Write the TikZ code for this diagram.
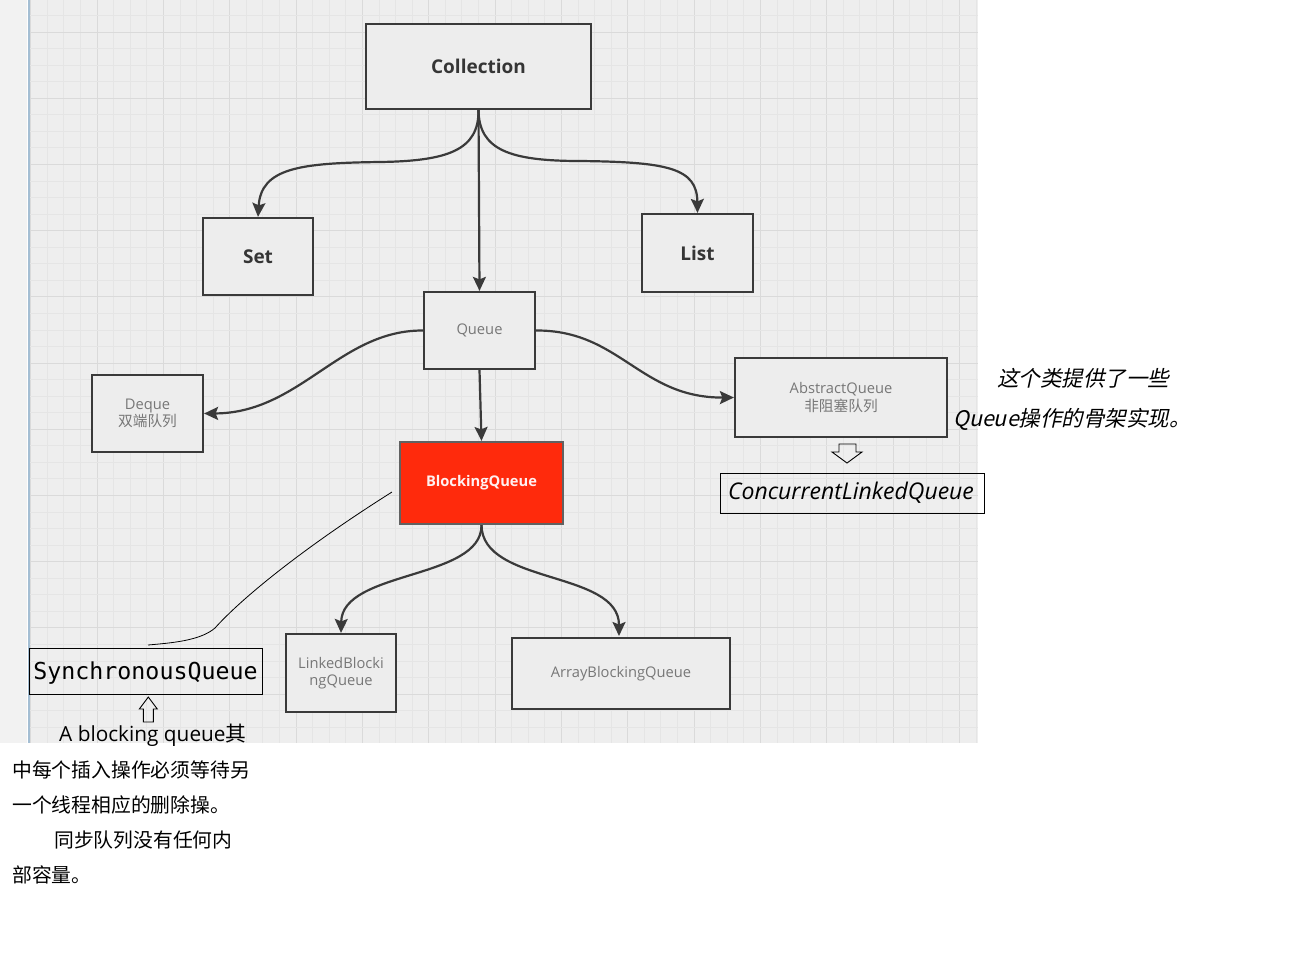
\documentclass[tikz,border=0pt]{standalone}
\usepackage{fontspec}
\setmainfont{Open Sans}
\newfontfamily\cjk{Noto Sans CJK SC}
\newfontfamily\cjkit[FakeSlant=0.22]{Noto Sans CJK SC}
\newfontfamily\monof{DejaVu Sans Mono}
\usetikzlibrary{arrows.meta}
\definecolor{gridbg}{HTML}{EEEEEE}
\definecolor{gridminor}{HTML}{E5E5E5}
\definecolor{gridmajor}{HTML}{DADADA}
\definecolor{boxline}{HTML}{3A3A3A}
\definecolor{boxfill}{HTML}{EDEDED}
\definecolor{lighttext}{HTML}{777777}
\definecolor{darktext}{HTML}{353535}
\definecolor{bqred}{HTML}{FF2A0C}
\definecolor{stripc}{HTML}{F2F2F2}
\definecolor{blueline}{HTML}{A4BED3}
\tikzset{
 uml/.style={draw=boxline, line width=2.2pt, fill=boxfill, inner sep=0pt, align=center},
 bigtxt/.style={font=\fontsize{19}{22}\selectfont\bfseries, text=darktext},
 smalltxt/.style={font=\fontsize{14.7}{17.5}\selectfont, text=lighttext},
 conn/.style={draw=boxline, line width=2.2pt, -{Stealth[length=14pt,width=13pt,inset=2.5pt]}},
 notebox/.style={draw=black, line width=1pt, inner sep=0pt},
 hollow/.style={draw=black, line width=0.9pt, line join=miter},
 plain/.style={inner sep=0pt, text=black},
}
\begin{document}
\begin{tikzpicture}[x=1pt,y=-1pt]
\useasboundingbox (0,0) rectangle (1289,975);
\fill[white] (0,0) rectangle (1289,975);
% left strip and grid area
\fill[stripc] (0,0) rectangle (27,743);
\fill[gridbg] (29,0) rectangle (978,743);
\foreach \i in {0,...,57}{
  \pgfmathsetmacro\xx{30.7+16.583*\i}
  \pgfmathtruncatemacro\m{mod(\i,4)}
  \ifnum\m=0
    \draw[gridmajor, line width=1pt] (\xx,0) -- (\xx,743);
  \else
    \draw[gridminor, line width=0.8pt] (\xx,0) -- (\xx,743);
  \fi
}
\foreach \j in {1,...,44}{
  \pgfmathsetmacro\yy{-1.1+16.55*\j}
  \pgfmathtruncatemacro\m{mod(\j,4)}
  \ifnum\m=2
    \draw[gridmajor, line width=1pt] (29,\yy) -- (978,\yy);
  \else
    \draw[gridminor, line width=0.8pt] (29,\yy) -- (978,\yy);
  \fi
}
\draw[blueline, line width=1.2pt] (29,0) -- (29,743);

% nodes
\node[uml, bigtxt, minimum width=225pt, minimum height=85pt] (coll) at (478.5,66.5) {Collection};
\node[uml, bigtxt, minimum width=110pt, minimum height=77pt] (set) at (258,256.5) {Set};
\node[uml, bigtxt, minimum width=111pt, minimum height=78pt] (list) at (697.5,253) {List};
\node[uml, smalltxt, minimum width=111pt, minimum height=77pt] (queue) at (479.5,330.5) {Queue};
\node[uml, smalltxt, minimum width=111pt, minimum height=77pt] (deque) at (147.5,413.5) {Deque\\{\cjk 双端队列}};
\node[uml, smalltxt, minimum width=212pt, minimum height=79pt] (aq) at (841,397.5) {AbstractQueue\\{\cjk 非阻塞队列}};
\node[uml, fill=bqred, draw=boxline!80, font=\fontsize{14.7}{17.5}\selectfont\bfseries, text=white!94!red, minimum width=163pt, minimum height=82pt] (bq) at (481.5,483) {BlockingQueue};
\node[uml, smalltxt, minimum width=110pt, minimum height=78pt] (lbq) at (341,673) {LinkedBlocki\\ngQueue};
\node[uml, smalltxt, minimum width=218pt, minimum height=71pt] (abq) at (621,673.5) {ArrayBlockingQueue};

\node[notebox, minimum width=233pt, minimum height=46pt] (sq) at (145.5,671) {};
\node[plain, font=\monof\fontsize{23.3}{26}\selectfont] (sqt) at (145.5,673.5) {SynchronousQueue};
\node[notebox, minimum width=264pt, minimum height=40pt] (clq) at (852,493) {};
\node[plain, font=\fontsize{23}{26}\selectfont\itshape] (clqt) at (851,493) {ConcurrentLinkedQueue};

% connectors
\draw[conn] (coll.south) .. controls (479,150) and (448,161) .. (380,162)
   .. controls (300,163) and (261,168) .. (set.north);
\draw[conn] (coll.south) -- (queue.north);
\draw[conn] (coll.south) .. controls (479,150) and (510,161) .. (580,161)
   .. controls (668,162) and (697,168) .. (list.north);
\draw[conn] (queue.west) .. controls (340,330) and (300,413) .. (deque.east);
\draw[conn] (queue.east) .. controls (620,330) and (640,398) .. (aq.west);
\draw[conn] (queue.south) -- (bq.north);
\draw[conn] (bq.south) .. controls (482,580) and (342,570) .. (lbq.north);
\draw[conn] (bq.south) .. controls (482,585) and (619,570) .. (619,636);

% annotation line
\coordinate (lineA) at (392,492);
\coordinate (lineB) at (148,645);
\draw[black, line width=0.8pt] (lineA) .. controls (300,550) and (240,600) .. (215,628)
   .. controls (200,641) and (170,643) .. (lineB);

% hollow arrows
\draw[hollow] (839,444) -- (856,444) -- (856,452) -- (862,452) -- (847,463) -- (832,452) -- (839,452) -- cycle;
\draw[hollow] (148.3,697) -- (157.3,709) -- (153.3,709) -- (153.3,722) -- (143.3,722) -- (143.3,709) -- (139.3,709) -- cycle;

% texts
\node[plain, anchor=base west, font=\fontsize{20.8}{24}\selectfont] (t1) at (59,741) {A blocking queue{\cjk 其}};
\node[plain, anchor=base west, font=\cjk\fontsize{19.8}{24}\selectfont] (t2) at (12,777) {中每个插入操作必须等待另};
\node[plain, anchor=base west, font=\cjk\fontsize{19.8}{24}\selectfont] (t3) at (12,812) {一个线程相应的删除操。};
\node[plain, anchor=base west, font=\cjk\fontsize{19.8}{24}\selectfont] (t4) at (54,847) {同步队列没有任何内};
\node[plain, anchor=base west, font=\cjk\fontsize{19.8}{24}\selectfont] (t5) at (12,882) {部容量。};

\node[plain, font=\cjkit\fontsize{21.5}{26}\selectfont] (r1) at (1083,378) {这个类提供了一些};
\node[plain, font=\cjkit\fontsize{21.5}{26}\selectfont] (r2) at (1072,419) {Queue操作的骨架实现。};
\end{tikzpicture}
\end{document}
